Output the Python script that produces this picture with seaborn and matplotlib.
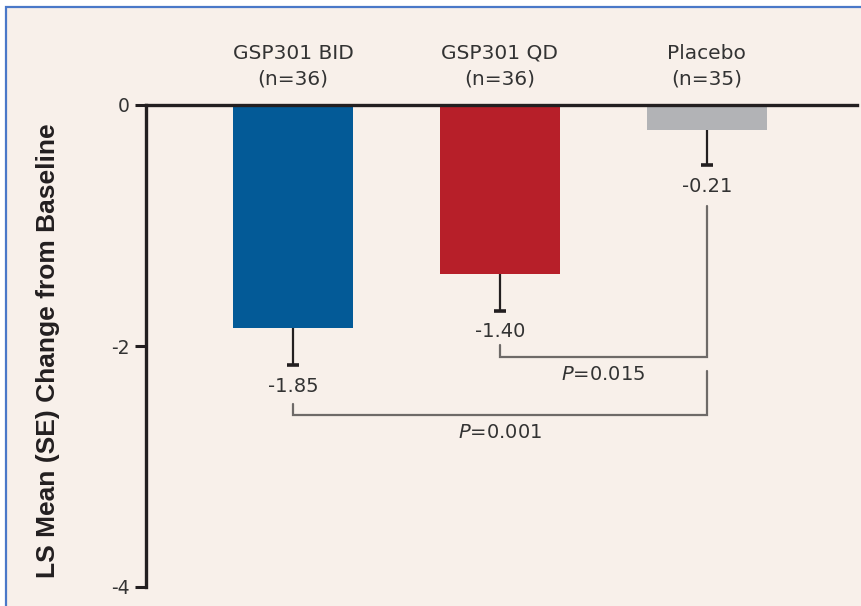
import matplotlib
matplotlib.use("Agg")
import matplotlib.pyplot as plt
from matplotlib.patches import Rectangle
import seaborn as sns
import pandas as pd
import numpy as np

# ---------------- data ----------------
groups = ["GSP301 BID", "GSP301 QD", "Placebo"]
n_sizes = [36, 36, 35]
ls_means = [-1.85, -1.40, -0.21]
std_errors = [0.31, 0.31, 0.29]
bar_colors = ["#035A97", "#B71F29", "#B2B3B6"]
# (group A, group B, p-value text)
comparisons = [("GSP301 QD", "Placebo", "0.015"),
               ("GSP301 BID", "Placebo", "0.001")]
y_ticks = [0, -2, -4]
y_label = "LS Mean (SE) Change from Baseline"

# ---------------- layout / style ----------------
# bracket geometry in data units: (horizontal level, left arm top, right arm top)
bracket_geom = [(-2.09, -1.99, -0.84), (-2.57, -2.48, -2.21)]
BG = "#F8F0EA"
INK = "#231F20"
TXT = "#333333"
BRACKET = "#6E6A68"
FONT = "DejaVu Sans"

sns.set_theme(style="white")
plt.rcParams["font.family"] = [FONT]
plt.rcParams["axes.unicode_minus"] = False
plt.rcParams["mathtext.fontset"] = "custom"
plt.rcParams["mathtext.it"] = FONT + ":italic"
plt.rcParams["mathtext.rm"] = FONT

W, H = 861, 606
fig = plt.figure(figsize=(W / 100, H / 100), dpi=100, facecolor="white")
fig.add_artist(Rectangle((5.5 / W, -0.05), 1.2, 1 - 6.5 / H + 0.05,
                         transform=fig.transFigure, facecolor=BG,
                         edgecolor="#4A78C8", linewidth=1.6, zorder=0))

ax = fig.add_axes([146 / W, 1 - 587 / H, (857 - 146) / W, (587 - 105) / H])
ax.set_facecolor("none")

labels = [f"{g}\n(n={n})" for g, n in zip(groups, n_sizes)]
df = pd.DataFrame({"group": labels, "change": ls_means})
sns.barplot(data=df, x="group", y="change", hue="group", palette=bar_colors,
            width=0.58, saturation=1, legend=False, ax=ax, zorder=2,
            linewidth=0, edgecolor="none")

x = np.arange(len(groups))
means = np.array(ls_means)
se = np.array(std_errors)
lower = means - se

# lower-only error bars
ax.errorbar(x, means, yerr=[se, np.zeros_like(se)], fmt="none",
            ecolor=INK, elinewidth=1.6, capsize=0, zorder=1)
ax.plot(x, lower, ls="none", marker="_", markersize=9,
        markeredgewidth=2.6, color=INK, zorder=3)

# value labels
for xi, m, lo in zip(x, means, lower):
    ax.annotate(f"{m:.2f}", xy=(xi, lo), xytext=(0, -15),
                textcoords="offset points", ha="center", va="center",
                fontsize=14, color=TXT)

# significance brackets
for (ga, gb, p), (lvl, ltop, rtop) in zip(comparisons, bracket_geom):
    xa, xb = groups.index(ga), groups.index(gb)
    ax.plot([xa, xa, xb, xb], [ltop, lvl, lvl, rtop], color=BRACKET,
            lw=1.6, solid_joinstyle="miter", zorder=2)
    ax.annotate(r"$\mathit{P}$=" + p, xy=((xa + xb) / 2, lvl),
                xytext=(0, -13), textcoords="offset points",
                ha="center", va="center", fontsize=14, color=TXT)

# axes
ax.set_ylim(-4, 0)
ax.set_xlim(-0.71, 2.725)
ax.set_yticks(y_ticks)
ax.set_yticklabels([str(t) for t in y_ticks])
ax.tick_params(axis="y", left=True, length=8, width=2.2, color=INK, pad=4,
               labelsize=13.5, labelcolor=TXT)
ax.xaxis.tick_top()
ax.set_xticks(x)
ax.set_xticklabels(labels, linespacing=1.45)
ax.tick_params(axis="x", length=0, pad=12, labelsize=14.5, labelcolor=TXT)
ax.set_xlabel("")

for side in ["bottom", "right"]:
    ax.spines[side].set_visible(False)
for side in ["left", "top"]:
    ax.spines[side].set_visible(True)
    ax.spines[side].set_linewidth(2.4)
    ax.spines[side].set_color(INK)
    ax.spines[side].set_zorder(4)

ax.set_ylabel(y_label, fontsize=19, fontweight="bold",
              family=["Liberation Sans", "DejaVu Sans"], color=INK, va="center")
ax.yaxis.set_label_coords(-0.138, 0.49)

fig.savefig("out.png", dpi=100, facecolor=fig.get_facecolor())
